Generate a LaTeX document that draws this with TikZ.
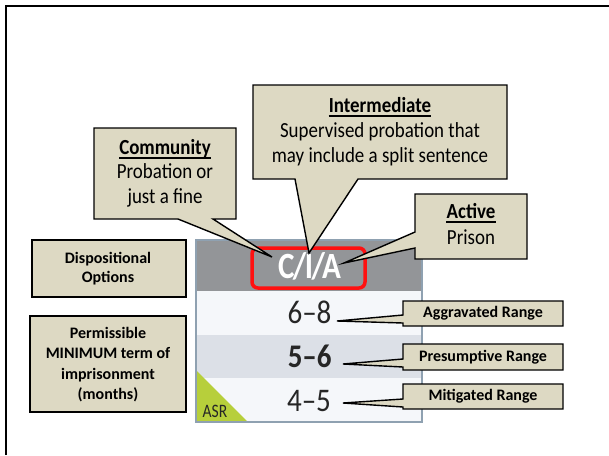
\documentclass[tikz,border=0pt]{standalone}
\usepackage{fontspec}
\setmainfont{Carlito}
\newfontfamily\condfont[FakeStretch=0.88]{Carlito}
\newfontfamily\asrfont[FakeStretch=0.82]{Carlito}
\newfontfamily\ciafont[FakeStretch=0.84,LetterSpace=-4]{Carlito}
\definecolor{tanfill}{HTML}{DDD9C3}
\definecolor{hdrgray}{HTML}{939598}
\definecolor{rowlight}{HTML}{F5F7FA}
\definecolor{rowdark}{HTML}{DCE0E7}
\definecolor{tblborder}{HTML}{8FA1B1}
\definecolor{asrgreen}{HTML}{B7CF3B}
\definecolor{ciared}{HTML}{FF1010}
\begin{document}
\begin{tikzpicture}[x=1pt,y=-1pt,
  callout/.style={draw=black,line width=1.4pt,fill=tanfill,line join=miter},
  txt/.style={inner sep=0pt,anchor=base},
  big/.style={txt,font=\condfont\fontsize{21.5}{24}\selectfont},
  bigb/.style={txt,font=\condfont\bfseries\fontsize{21.5}{24}\selectfont},
  lbl/.style={txt,font=\bfseries\fontsize{16}{20}\selectfont},
  rng/.style={txt,font=\bfseries\fontsize{16}{20}\selectfont},
  num/.style={txt,font=\condfont\fontsize{33}{34}\selectfont,text=black!85},
  numb/.style={txt,font=\condfont\bfseries\fontsize{33}{34}\selectfont,text=black!85},
  ul/.style={line width=1.8pt}]
\useasboundingbox (0,0) rectangle (609,455);
\fill[white] (0,0) rectangle (609,455);
\draw[line width=2.5pt] (6,455) -- (6,6) -- (609,6);

% table
\fill[hdrgray] (196,240) rectangle (422,291);
\fill[rowlight] (196,291) rectangle (422,335);
\fill[rowdark] (196,335) rectangle (422,378);
\fill[rowlight] (196,378) rectangle (422,422);
\fill[asrgreen] (197,371) -- (197,422) -- (248,422) -- cycle;
\draw[tblborder,line width=1.5pt] (196,240) rectangle (422,422);
\draw[ciared,line width=3.5pt,rounded corners=6pt] (252,248) rectangle (365,288);
\node[txt,font=\ciafont\bfseries\fontsize{37}{37}\selectfont,text=white] (cia) at (309.5,278.5) {C/I/A};

\node[num] (n68) at (309.5,323) {6–8};
\node[numb] (n56) at (309.7,367) {5–6};
\node[num] (n45) at (309,411) {4–5};
\node[txt,font=\asrfont\fontsize{19}{19}\selectfont,text=black!85] (asr) at (215,417.5) {ASR};

% pointer tips
\coordinate (tipC) at (272,257);
\coordinate (tipI) at (309,253);
\coordinate (tipA) at (344,263);
\coordinate (tipAg) at (337,321);
\coordinate (tipPr) at (343,364);
\coordinate (tipMi) at (343,403);

% callouts
\draw[callout] (94,128) -- (236,128) -- (236,219) -- (213,219) -- (tipC) -- (178,219) -- (94,219) -- cycle;
\draw[callout] (253,85) -- (507,85) -- (507,179) -- (358,179) -- (tipI) -- (295,179) -- (253,179) -- cycle;
\draw[callout] (415,194) -- (527,194) -- (527,259) -- (415,259) -- (415,248) -- (tipA) -- (415,232) -- cycle;
\draw[callout] (403,301) -- (563,301) -- (563,326) -- (403,326) -- (403,323) -- (tipAg) -- (403,315) -- cycle;
\draw[callout] (403,344) -- (563,344) -- (563,370) -- (403,370) -- (403,367) -- (tipPr) -- (403,359) -- cycle;
\draw[callout] (403,384) -- (563,384) -- (563,409) -- (403,409) -- (403,407) -- (tipMi) -- (403,399) -- cycle;

% plain boxes
\draw[callout] (32,240) rectangle (186,297);
\draw[callout] (30,316) rectangle (186,412);

% community text
\node[bigb] (hC) at (165,154) {Community};
\draw[ul] ([yshift=-4pt]hC.base west) -- ([yshift=-4pt]hC.base east);
\node[big] (c1) at (165,178) {Probation or};
\node[big] (c2) at (165,203) {just a fine};

% intermediate text
\node[bigb] (hI) at (380,112) {Intermediate};
\draw[ul] ([yshift=-4pt]hI.base west) -- ([yshift=-4pt]hI.base east);
\node[big] (i1) at (380,137) {Supervised probation that};
\node[big] (i2) at (380,162) {may include a split sentence};

% active text
\node[bigb] (hA) at (471,218) {Active};
\draw[ul] ([yshift=-4pt]hA.base west) -- ([yshift=-4pt]hA.base east);
\node[big] (a1) at (471,244) {Prison};

% left labels
\node[lbl] (d1) at (108,263) {Dispositional};
\node[lbl] (d2) at (108,282) {Options};
\node[lbl] (p1) at (108,338) {Permissible};
\node[lbl] (p2) at (108,358.5) {MINIMUM term of};
\node[lbl] (p3) at (108,379) {imprisonment};
\node[lbl] (p4) at (108,399.5) {(months)};

% range labels
\node[rng] (rAg) at (483,317) {Aggravated Range};
\node[rng] (rPr) at (483,361) {Presumptive Range};
\node[rng] (rMi) at (483,400) {Mitigated Range};
\end{tikzpicture}
\end{document}
